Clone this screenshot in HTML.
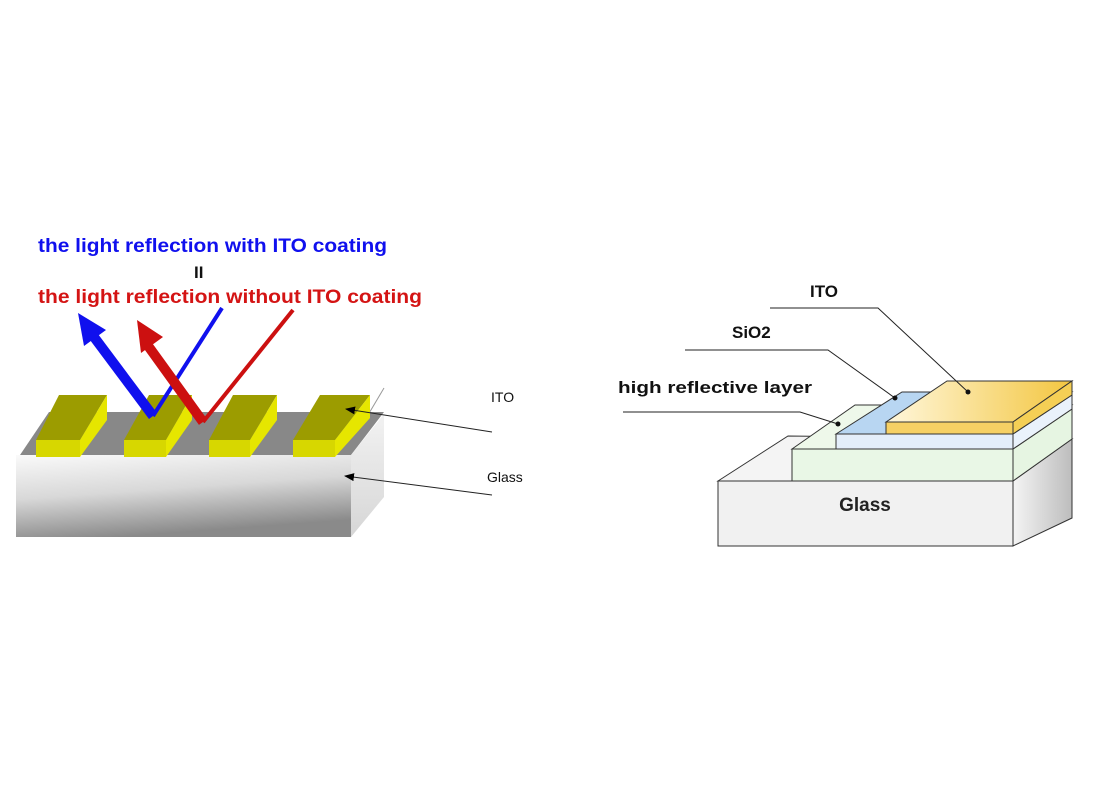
<!DOCTYPE html>
<html><head><meta charset="utf-8"><style>html,body{margin:0;padding:0;background:#fff}svg{display:block}</style></head>
<body>
<svg width="1100" height="800" viewBox="0 0 1100 800" xmlns="http://www.w3.org/2000/svg" font-family="Liberation Sans, sans-serif">
<defs>
<linearGradient id="gf" x1="0" y1="0" x2="0.3" y2="1"><stop offset="0" stop-color="#fafafa"/><stop offset="0.5" stop-color="#d8d8d8"/><stop offset="1" stop-color="#8a8a8a"/></linearGradient>
<linearGradient id="gs" x1="0" y1="0" x2="0" y2="1"><stop offset="0" stop-color="#f2f2f2"/><stop offset="1" stop-color="#d6d6d6"/></linearGradient>
<linearGradient id="ito" x1="0" y1="0" x2="1" y2="0"><stop offset="0" stop-color="#fff7dc"/><stop offset="1" stop-color="#f3c640"/></linearGradient>
<linearGradient id="rs" x1="0" y1="0" x2="1" y2="0"><stop offset="0" stop-color="#f4f4f4"/><stop offset="1" stop-color="#bdbdbd"/></linearGradient>
<marker id="ah" markerWidth="10" markerHeight="8" refX="9" refY="4" orient="auto" markerUnits="userSpaceOnUse"><path d="M0,0 L10,4 L0,8 z" fill="#000"/></marker>
</defs>

<!-- Left diagram -->
<text x="38" y="252" font-size="19" font-weight="bold" fill="#1010ee" textLength="349" lengthAdjust="spacingAndGlyphs">the light reflection with ITO coating</text>
<text x="194" y="278" font-size="17" font-weight="bold" fill="#111">II</text>
<text x="38" y="303" font-size="19" font-weight="bold" fill="#d41414" textLength="384" lengthAdjust="spacingAndGlyphs">the light reflection without ITO coating</text>

<polygon points="20,455 49,412 384,412 351,455" fill="#888"/>
<polygon points="351,455 384,414 384,497 351,537" fill="url(#gs)"/>
<rect x="16" y="455" width="335" height="82" fill="url(#gf)"/>
<line x1="384" y1="388" x2="368" y2="415" stroke="#999" stroke-width="1"/>

<g>
<polygon points="36,440 59,395 107,395 80,440" fill="#9c9c00"/>
<polygon points="80,440 107,395 107,420 80,457" fill="#e6e600"/>
<rect x="36" y="440" width="44" height="17" fill="#d7d700"/>
<polygon points="124,440 149,395 192,395 166,440" fill="#9c9c00"/>
<polygon points="166,440 192,395 192,420 166,457" fill="#e6e600"/>
<rect x="124" y="440" width="42" height="17" fill="#d7d700"/>
<polygon points="209,440 233,395 277,395 250,440" fill="#9c9c00"/>
<polygon points="250,440 277,395 277,420 250,457" fill="#e6e600"/>
<rect x="209" y="440" width="41" height="17" fill="#d7d700"/>
<polygon points="293,440 320,395 370,395 335,440" fill="#9c9c00"/>
<polygon points="335,440 370,395 370,418 335,457" fill="#e6e600"/>
<rect x="293" y="440" width="42" height="17" fill="#d7d700"/>
</g>

<!-- arrows -->
<line x1="153" y1="416" x2="222" y2="308" stroke="#1010ee" stroke-width="4"/>
<line x1="153" y1="416" x2="94" y2="337" stroke="#1010ee" stroke-width="10"/>
<polygon points="78,313 106,330 84,346" fill="#1010ee"/>
<line x1="203" y1="422" x2="293" y2="310" stroke="#cc1010" stroke-width="4"/>
<line x1="203" y1="422" x2="146" y2="343" stroke="#cc1010" stroke-width="10"/>
<polygon points="137,320 163,337 141,353" fill="#cc1010"/>

<line x1="492" y1="432" x2="346" y2="409" stroke="#222" stroke-width="1" marker-end="url(#ah)"/>
<line x1="492" y1="495" x2="345" y2="476" stroke="#222" stroke-width="1" marker-end="url(#ah)"/>
<text x="491" y="402" font-size="14" fill="#111">ITO</text>
<text x="487" y="482" font-size="14" fill="#111">Glass</text>

<!-- Right diagram -->
<polygon points="718,481 788,436 1072,439 1013,481" fill="#f4f4f4" stroke="#333" stroke-width="1"/>
<polygon points="1013,481 1072,439 1072,518 1013,546" fill="url(#rs)" stroke="#333" stroke-width="1"/>
<rect x="718" y="481" width="295" height="65" fill="#f1f1f1" stroke="#333" stroke-width="1"/>
<text x="865" y="511" font-size="19" font-weight="bold" fill="#222" text-anchor="middle">Glass</text>

<polygon points="792,449 855,405 1072,405 1013,449" fill="#eef8ea" stroke="#333" stroke-width="1"/>
<polygon points="1013,449 1072,409 1072,439 1013,481" fill="#e6f5e2" stroke="#333" stroke-width="1"/>
<rect x="792" y="449" width="221" height="32" fill="#e9f7e6" stroke="#333" stroke-width="1"/>

<polygon points="836,434 902,392 1072,392 1013,434" fill="#b8d6f2" stroke="#333" stroke-width="1"/>
<polygon points="1013,434 1072,395 1072,409 1013,449" fill="#eaf2fb" stroke="#333" stroke-width="1"/>
<rect x="836" y="434" width="177" height="15" fill="#e4eefa" stroke="#333" stroke-width="1"/>

<polygon points="886,422 947,381 1072,381 1013,422" fill="url(#ito)" stroke="#333" stroke-width="1"/>
<polygon points="1013,422 1072,381 1072,395 1013,434" fill="#f5cf55" stroke="#333" stroke-width="1"/>
<rect x="886" y="422" width="127" height="12" fill="#f6d064" stroke="#333" stroke-width="1"/>

<polyline points="770,308 878,308 968,392" fill="none" stroke="#222" stroke-width="1"/>
<circle cx="968" cy="392" r="2.5" fill="#111"/>
<polyline points="685,350 828,350 895,398" fill="none" stroke="#222" stroke-width="1"/>
<circle cx="895" cy="398" r="2.5" fill="#111"/>
<polyline points="623,412 800,412 838,424" fill="none" stroke="#222" stroke-width="1"/>
<circle cx="838" cy="424" r="2.5" fill="#111"/>

<text x="810" y="297" font-size="17" font-weight="bold" fill="#111">ITO</text>
<text x="732" y="338" font-size="17" font-weight="bold" fill="#111">SiO2</text>
<text x="618" y="393" font-size="17" font-weight="bold" fill="#111" textLength="194" lengthAdjust="spacingAndGlyphs">high reflective layer</text>
</svg>
</body></html>
